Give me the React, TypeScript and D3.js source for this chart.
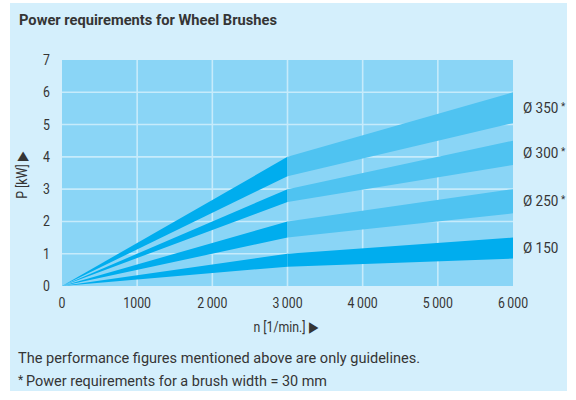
import React, { useRef, useEffect } from "react";
import * as d3 from "d3";

// rpm positions where the bands change slope
const rpm = [0, 3000, 6000];
const sizeLabels = ["Ø 350", "Ø 300", "Ø 250", "Ø 150"];
const starred = [true, true, true, false];
// power [kW] for each brush diameter, lower and upper edge of the band
const upper350 = [0, 4.0, 6.0];
const lower350 = [0, 3.4, 5.05];
const upper300 = [0, 3.0, 4.5];
const lower300 = [0, 2.6, 3.75];
const upper250 = [0, 2.0, 3.0];
const lower250 = [0, 1.5, 2.25];
const upper150 = [0, 1.0, 1.5];
const lower150 = [0, 0.6, 0.85];
const xTicks = [0, 1000, 2000, 3000, 4000, 5000, 6000];
const yTicks = [0, 1, 2, 3, 4, 5, 6, 7];

const FONT = "Roboto, 'Liberation Sans', sans-serif";
const SQ = 0.82; // condensed look

function App() {
  const svgRef = useRef<SVGSVGElement>(null);

  useEffect(() => {
    const svg = d3.select(svgRef.current);
    svg.selectAll("*").remove();

    const x = d3.scaleLinear().domain([0, 6000]).range([62, 513]);
    const y = d3.scaleLinear().domain([0, 7]).range([286, 60]);

    // panel
    svg.append("rect").attr("x", 10).attr("y", 3).attr("width", 557).attr("height", 388).attr("fill", "#d4effc");
    svg.append("rect")
      .attr("x", x(0)).attr("y", y(7))
      .attr("width", x(6000) - x(0)).attr("height", y(0) - y(7))
      .attr("fill", "#8ad5f6");

    // grid
    const grid = svg.append("g").attr("stroke", "#c6ebfb").attr("stroke-width", 1.6);
    xTicks.slice(1, -1).forEach(t => {
      grid.append("line").attr("x1", x(t)).attr("x2", x(t)).attr("y1", y(0)).attr("y2", y(7));
    });
    yTicks.slice(1, -1).forEach(t => {
      grid.append("line").attr("x1", x(0)).attr("x2", x(6000)).attr("y1", y(t)).attr("y2", y(t));
    });

    const bands = [
      { lo: lower350, hi: upper350, fullDark: false },
      { lo: lower300, hi: upper300, fullDark: false },
      { lo: lower250, hi: upper250, fullDark: false },
      { lo: lower150, hi: upper150, fullDark: true },
    ];
    const dark = "#00adee";
    const light = "#4fc3f1";

    bands.forEach(b => {
      const a = d3.area<number>()
        .x(i => x(rpm[i]))
        .y0(i => y(b.lo[i]))
        .y1(i => y(b.hi[i]));
      svg.append("path").attr("d", a([0, 1])).attr("fill", dark);
      svg.append("path").attr("d", a([1, 2])).attr("fill", b.fullDark ? dark : light);
    });

    const txt = svg.append("g").attr("font-family", FONT).attr("fill", "#353535");
    const label = (px: number, py: number, s: string, size: number, anchor = "start", rot = 0, sq = SQ) =>
      txt.append("text")
        .attr("transform", `translate(${px},${py}) rotate(${rot}) scale(${sq},1)`)
        .attr("text-anchor", anchor)
        .attr("font-size", size)
        .text(s);

    yTicks.forEach(t => label(50, y(t) + 5, String(t), 15, "end"));
    xTicks.forEach(t => {
      const s = t >= 2000 ? `${t / 1000}\u2009000` : `${t}`;
      label(x(t), y(0) + 22, s, 15, "middle");
    });

    label(286, 332, "n [1/min.] \u25B6", 15, "middle");
    label(27, 175, "P [kW] \u25B6", 15, "middle", -90);

    // size labels
    const lows = [lower350, lower300, lower250, lower150];
    const highs = [upper350, upper300, upper250, upper150];
    sizeLabels.forEach((l, i) => {
      const t = label(523, y((lows[i][2] + highs[i][2]) / 2) + 5, l, 15, "start", 0, 0.9);
      if (starred[i]) t.append("tspan").attr("dx", 3).attr("dy", -3).attr("font-size", 11).text("*");
    });

    txt.append("text").attr("x", 19).attr("y", 25).attr("font-size", 15).attr("font-weight", "bold")
      .attr("textLength", 258).attr("lengthAdjust", "spacingAndGlyphs")
      .text("Power requirements for Wheel Brushes");
    txt.append("text").attr("x", 18).attr("y", 363).attr("font-size", 15)
      .attr("textLength", 402).attr("lengthAdjust", "spacingAndGlyphs")
      .text("The performance figures mentioned above are only guidelines.");
    txt.append("text").attr("x", 18).attr("y", 384).attr("font-size", 12).text("*");
    txt.append("text").attr("x", 26).attr("y", 386).attr("font-size", 15)
      .attr("textLength", 301).attr("lengthAdjust", "spacingAndGlyphs")
      .text("Power requirements for a brush width = 30 mm");
  }, []);

  return (
    <div style={{ position: "fixed", left: 0, top: 0 }}>
      <svg ref={svgRef} width={576} height={400} style={{ display: "block", background: "#fff" }} />
    </div>
  );
}

export default App;
